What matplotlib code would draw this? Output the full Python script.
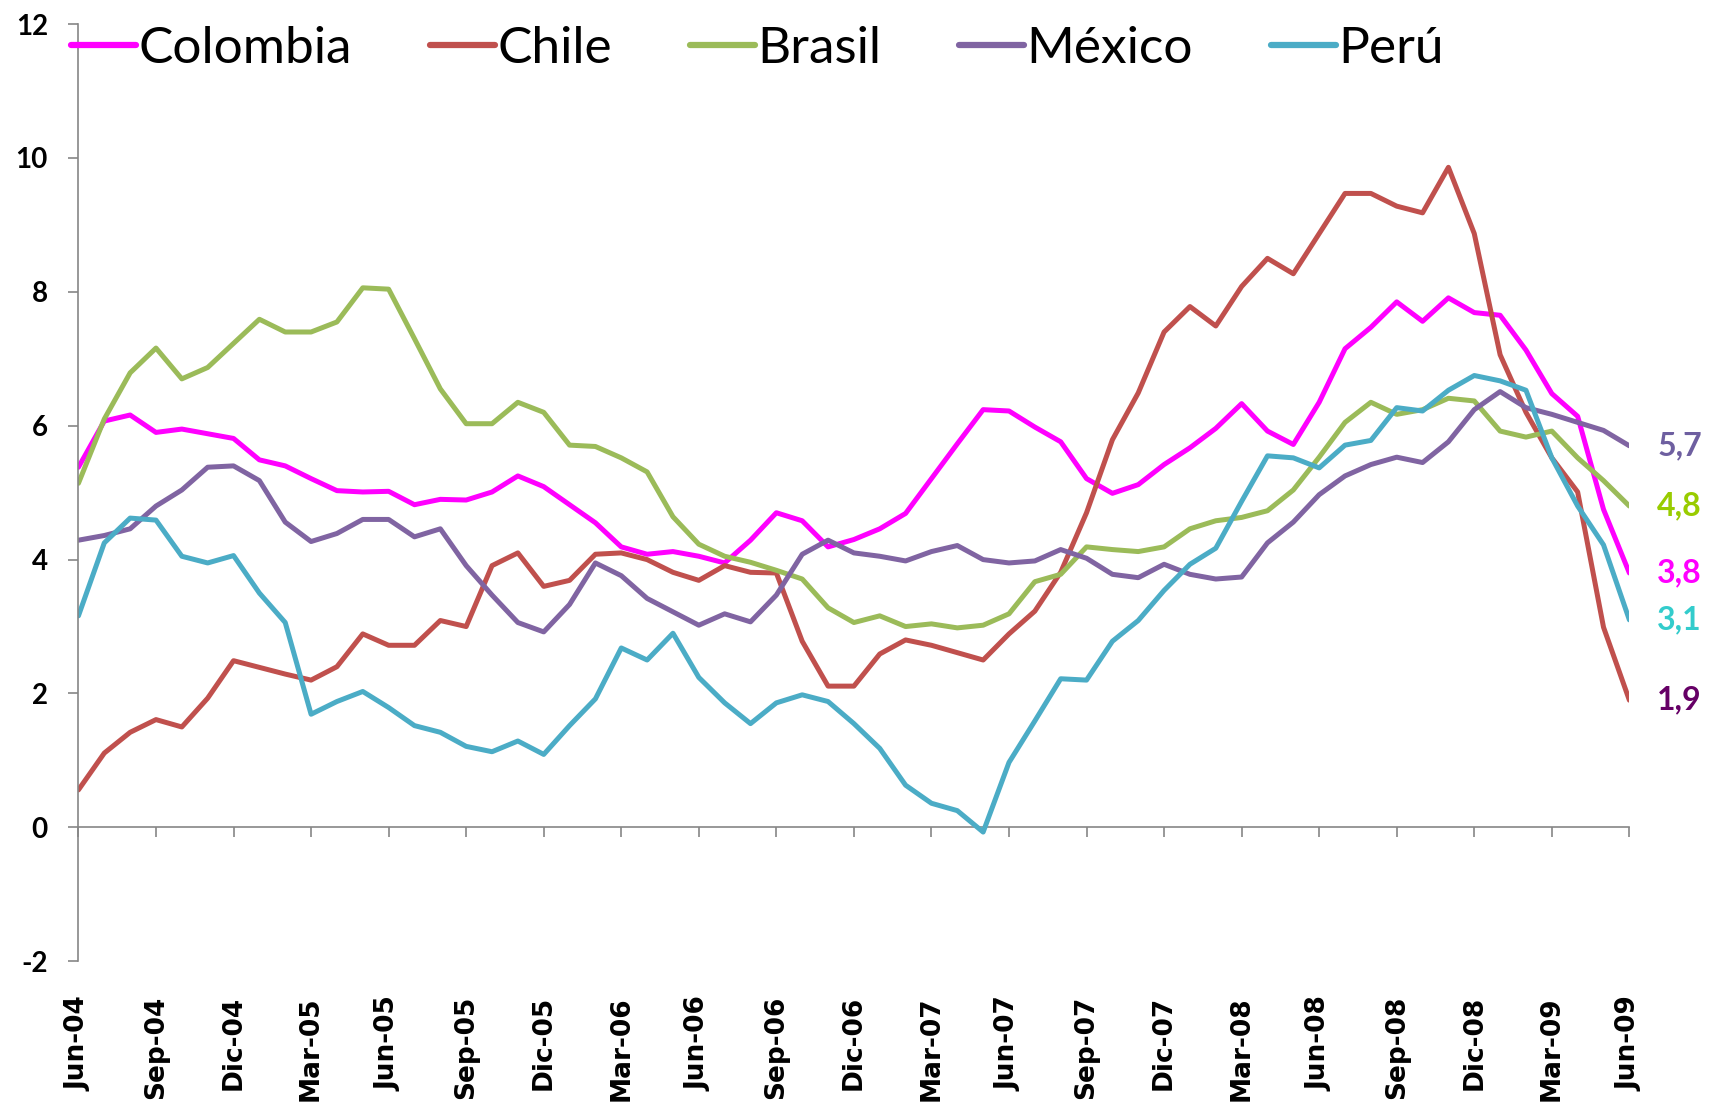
import numpy as np
import matplotlib
matplotlib.use('Agg')
import matplotlib.pyplot as plt

plt.rcParams['font.family'] = ['Lato', 'DejaVu Sans']
plt.rcParams['axes.unicode_minus'] = False

# Monthly inflation, Jun-04 .. Jun-09 (61 months)
colombia = [5.38, 6.07, 6.16, 5.90, 5.95, 5.88, 5.81, 5.49, 5.40, 5.21,
            5.03, 5.01, 5.02, 4.82, 4.90, 4.89, 5.01, 5.25, 5.09, 4.82,
            4.55, 4.19, 4.08, 4.12, 4.05, 3.95, 4.29, 4.70, 4.58, 4.19,
            4.30, 4.46, 4.69, 5.21, 5.73, 6.24, 6.22, 5.98, 5.76, 5.21,
            4.99, 5.12, 5.42, 5.67, 5.96, 6.33, 5.92, 5.72, 6.35, 7.15,
            7.47, 7.85, 7.56, 7.91, 7.69, 7.65, 7.13, 6.48, 6.14, 4.75,
            3.8]
chile = [0.56, 1.11, 1.42, 1.61, 1.50, 1.93, 2.49, 2.39, 2.29, 2.20,
         2.40, 2.89, 2.72, 2.72, 3.09, 3.00, 3.91, 4.10, 3.60, 3.69,
         4.08, 4.10, 4.00, 3.81, 3.69, 3.91, 3.81, 3.80, 2.78, 2.11,
         2.11, 2.59, 2.80, 2.72, 2.61, 2.50, 2.89, 3.23, 3.81, 4.70,
         5.79, 6.49, 7.40, 7.78, 7.49, 8.08, 8.50, 8.27, 8.87, 9.47,
         9.47, 9.28, 9.18, 9.86, 8.87, 7.06, 6.20, 5.52, 5.01, 2.99,
         1.9]
brasil = [5.14, 6.10, 6.79, 7.16, 6.70, 6.87, 7.23, 7.59, 7.40, 7.40,
          7.55, 8.06, 8.04, 7.30, 6.55, 6.03, 6.03, 6.35, 6.20, 5.71,
          5.69, 5.52, 5.31, 4.64, 4.23, 4.05, 3.96, 3.84, 3.71, 3.28,
          3.06, 3.16, 3.00, 3.04, 2.98, 3.02, 3.19, 3.67, 3.78, 4.19,
          4.15, 4.12, 4.19, 4.46, 4.58, 4.63, 4.73, 5.04, 5.53, 6.05,
          6.35, 6.17, 6.24, 6.41, 6.37, 5.92, 5.83, 5.92, 5.52, 5.18,
          4.8]
mexico = [4.29, 4.36, 4.46, 4.80, 5.04, 5.38, 5.40, 5.18, 4.56, 4.27,
          4.39, 4.60, 4.60, 4.34, 4.46, 3.91, 3.47, 3.06, 2.92, 3.33,
          3.95, 3.76, 3.42, 3.22, 3.02, 3.19, 3.07, 3.47, 4.08, 4.29,
          4.10, 4.05, 3.98, 4.12, 4.21, 4.00, 3.95, 3.98, 4.15, 4.02,
          3.78, 3.73, 3.93, 3.78, 3.71, 3.74, 4.25, 4.56, 4.97, 5.25,
          5.42, 5.53, 5.45, 5.76, 6.24, 6.51, 6.27, 6.17, 6.05, 5.93,
          5.7]
peru = [3.16, 4.25, 4.62, 4.59, 4.05, 3.95, 4.06, 3.50, 3.06, 1.69,
        1.88, 2.03, 1.79, 1.52, 1.42, 1.21, 1.13, 1.29, 1.09, 1.52,
        1.92, 2.68, 2.50, 2.90, 2.24, 1.86, 1.55, 1.86, 1.98, 1.88,
        1.55, 1.18, 0.63, 0.36, 0.25, -0.07, 0.97, 1.59, 2.22, 2.20,
        2.78, 3.09, 3.54, 3.93, 4.17, 4.87, 5.55, 5.52, 5.37, 5.71,
        5.78, 6.27, 6.22, 6.53, 6.75, 6.67, 6.53, 5.52, 4.80, 4.22,
        3.1]

countries = ['Colombia', 'Chile', 'Brasil', 'México', 'Perú']
series = [colombia, chile, brasil, mexico, peru]
line_colors = ['#FF00FF', '#C0504D', '#9BBB59', '#8064A2', '#4BACC6']
label_colors = ['#FF00FF', '#660066', '#99CC00', '#6E5FA0', '#33CCCC']

tick_labels = ['Jun-04', 'Sep-04', 'Dic-04', 'Mar-05', 'Jun-05', 'Sep-05',
               'Dic-05', 'Mar-06', 'Jun-06', 'Sep-06', 'Dic-06', 'Mar-07',
               'Jun-07', 'Sep-07', 'Dic-07', 'Mar-08', 'Jun-08', 'Sep-08',
               'Dic-08', 'Mar-09', 'Jun-09']

months = np.arange(len(colombia))
axis_gray = '#868686'

fig = plt.figure(figsize=(17.09, 11.04), dpi=100)
ax = fig.add_axes([0.0459, 0.1293, 0.9075, 0.8489])

handles = []
for name, vals, col in zip(countries, series, line_colors):
    h, = ax.plot(months, vals, color=col, lw=3.6, label=name,
                 solid_joinstyle='round', solid_capstyle='round')
    handles.append(h)

# value labels at the right end of each line
for vals, col in zip(series, label_colors):
    ax.annotate(f'{vals[-1]:.1f}'.replace('.', ','), xy=(months[-1], vals[-1]),
                xytext=(20, 0), textcoords='offset points', ha='left', va='center',
                fontsize=23, fontweight='bold', color=col, annotation_clip=False)

ax.set_xlim(0, 60)
ax.set_ylim(-2, 12)
ax.set_yticks(np.arange(-2, 13, 2))
ax.tick_params(axis='y', direction='out', length=7, width=1.2, color=axis_gray,
               pad=15, labelsize=20)
for lbl in ax.get_yticklabels():
    lbl.set_fontweight('bold')

# category labels sit below the plot, tick marks sit on the zero line
ax.set_xticks(months[::3])
ax.set_xticklabels(tick_labels, rotation=90, fontsize=19, fontweight='bold',
                   family='DejaVu Sans', va='top', ha='center')
ax.tick_params(axis='x', length=0, pad=25)

for side in ['top', 'right', 'bottom']:
    ax.spines[side].set_visible(False)
ax.spines['left'].set_color(axis_gray)
ax.spines['left'].set_linewidth(1.2)

zero_axis = ax.secondary_xaxis(2 / 14)
zero_axis.set_xticks(months[::3])
zero_axis.tick_params(direction='out', length=7, width=1.2, color=axis_gray,
                      labelbottom=False)
zero_axis.spines['bottom'].set_color(axis_gray)
zero_axis.spines['bottom'].set_linewidth(1.2)

leg = ax.legend(handles=handles, loc='center left',
                bbox_to_anchor=(0.0415, 1 - 49 / 1104),
                bbox_transform=fig.transFigure, ncol=5, frameon=False, fontsize=37,
                handlelength=1.26, handletextpad=0.05, columnspacing=1.52,
                borderpad=0, borderaxespad=0)
for ln in leg.get_lines():
    ln.set_linewidth(4.5)

fig.savefig('out.png', dpi=100)
